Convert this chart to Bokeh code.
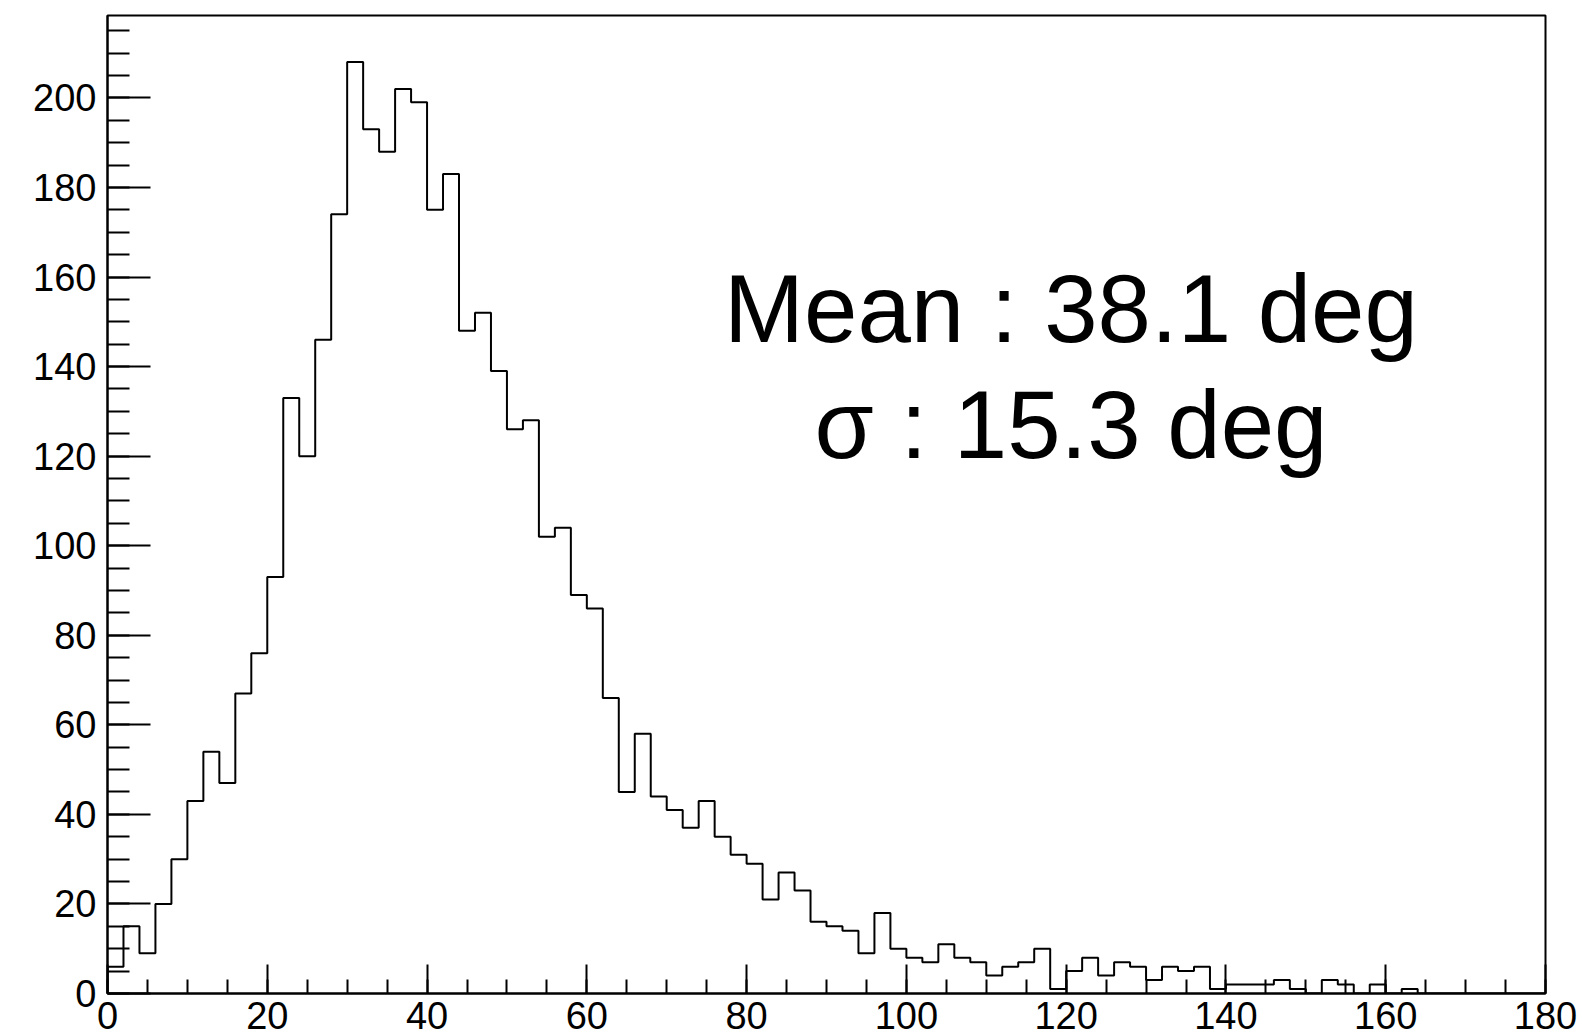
from bokeh.plotting import figure
from bokeh.models import Range1d, SingleIntervalTicker, Label
from bokeh.embed import file_html
from bokeh.resources import INLINE

# Histogram: 90 bins of 2 deg from 0 to 180
bin_width = 2
x_min = 0
x_max = 180
counts = [
    6, 15, 9, 20, 30, 43, 54, 47, 67, 76,
    93, 133, 120, 146, 174, 208, 193, 188, 202, 199,
    175, 183, 148, 152, 139, 126, 128, 102, 104, 89,
    86, 66, 45, 58, 44, 41, 37, 43, 35, 31,
    29, 21, 27, 23, 16, 15, 14, 9, 18, 10,
    8, 7, 11, 8, 7, 4, 6, 7, 10, 1,
    5, 8, 4, 7, 6, 3, 6, 5, 6, 1,
    2, 2, 2, 3, 1, 0, 3, 2, 0, 2,
    0, 1, 0, 0, 0, 0, 0, 0, 0, 0,
]
stat_lines = ["Mean : 38.1 deg", "\u03c3 : 15.3 deg"]
stat_x = 120.6
stat_y = [153.0, 127.1]

edges = [x_min + i * bin_width for i in range(len(counts) + 1)]
y_top = max(counts) * 1.05

FONT = "Liberation Sans"

p = figure(
    frame_width=1438, frame_height=978,
    x_range=Range1d(x_min, x_max), y_range=Range1d(0, y_top),
    output_backend="svg", toolbar_location=None,
    background_fill_color="white", border_fill_color="white",
)
p.min_border_left = 107
p.min_border_right = 37
p.min_border_top = 15
p.min_border_bottom = 0
p.grid.visible = False
p.outline_line_color = "black"
p.outline_line_width = 2
p.outline_line_alpha = 1.0

# step outline of the histogram (left edges + closing edge)
p.step(x=edges, y=counts + [counts[-1]], mode="after", line_color="black", line_width=2)
p.segment(x0=[edges[0]], y0=[0], x1=[edges[0]], y1=[counts[0]], line_color="black", line_width=2)

p.xaxis.ticker = SingleIntervalTicker(interval=20, num_minor_ticks=4)
p.yaxis.ticker = SingleIntervalTicker(interval=20, num_minor_ticks=4)

for ax in (p.xaxis[0], p.yaxis[0]):
    ax.axis_line_width = 2
    ax.axis_line_color = "black"
    ax.major_tick_line_width = 2
    ax.minor_tick_line_width = 2
    ax.major_tick_line_color = "black"
    ax.minor_tick_line_color = "black"
    ax.major_tick_out = 0
    ax.minor_tick_out = 0
    ax.major_label_text_font = FONT
    ax.major_label_text_font_size = "38px"
    ax.major_label_text_color = "black"
    ax.major_label_text_line_height = 1.0

p.xaxis.major_tick_in = 29
p.xaxis.minor_tick_in = 14
p.xaxis.major_label_standoff = 8
p.xaxis.major_label_text_line_height = 0.85
p.yaxis.major_tick_in = 43
p.yaxis.minor_tick_in = 22
p.yaxis.major_label_standoff = 11

for txt, yy in zip(stat_lines, stat_y):
    p.add_layout(Label(x=stat_x, y=yy, text=txt, text_align="center",
                       text_baseline="alphabetic", text_font=FONT, text_font_size="96px",
                       text_color="black"))

open("out.html", "w").write(file_html(p, INLINE))
